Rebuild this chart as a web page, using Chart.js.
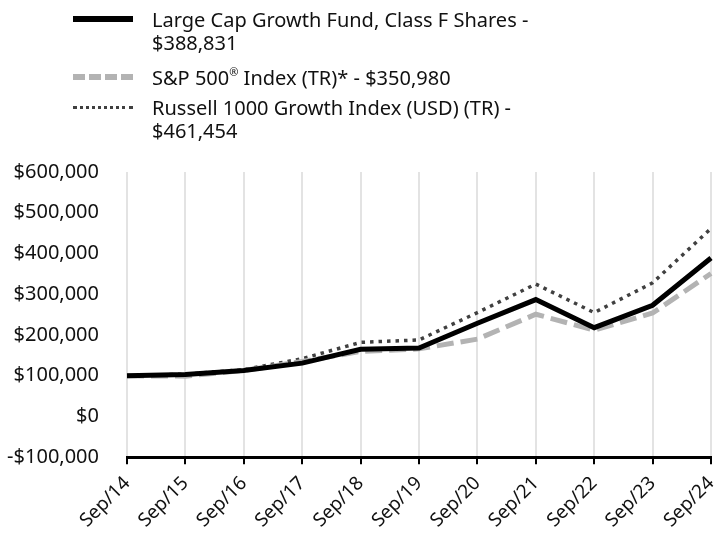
<!DOCTYPE html>
<html><head><meta charset="utf-8">
<script src="https://cdn.jsdelivr.net/npm/chart.js@4"></script>
<style>
html,body{margin:0;padding:0;background:#fff;}
#wrap{position:relative;width:714px;height:540px;}
#c{position:absolute;left:0;top:0;}
#legend{position:absolute;left:0;top:0;font-family:"Noto Sans",sans-serif;font-size:20px;color:#111;line-height:23px;}
.item{position:absolute;left:73px;width:640px;}
.sw{position:absolute;left:0;width:60px;height:0;}
.txt{position:absolute;left:79px;white-space:nowrap;}
.txt sup{font-size:11px;line-height:0;vertical-align:9px;}
</style></head>
<body><div id="wrap"><canvas id="c" width="714" height="540"></canvas><div id="legend"></div></div>
<script>
const categories = ["Sep/14","Sep/15","Sep/16","Sep/17","Sep/18","Sep/19","Sep/20","Sep/21","Sep/22","Sep/23","Sep/24"];
const fundValues = [100000,103000,113000,131000,165000,168000,229000,287000,218000,273000,388831];
const spValues = [100000,99000,113000,135000,160000,166000,190000,251000,212000,254000,350980];
const russellValues = [100000,104000,115000,142000,182000,188000,255000,325000,255000,328000,461454];
const seriesLabels = [["Large Cap Growth Fund, Class F Shares -","$388,831"],["S&P 500\u00AE Index (TR)* - $350,980"],["Russell 1000 Growth Index (USD) (TR) -","$461,454"]];
const yTicks = [-100000,0,100000,200000,300000,400000,500000,600000];

const legendStyles = [
  {top:8, sw:'border-top:6px solid #000;margin-top:8px;'},
  {top:66, sw:'border-top:6px dashed #b3b3b3;margin-top:8px;'},
  {top:96, sw:'border-top:3px dotted #404040;margin-top:10px;'}
];
const lg = document.getElementById('legend');
seriesLabels.forEach((lines,i)=>{
  const d=document.createElement('div');d.className='item';d.style.top=legendStyles[i].top+'px';
  const s=document.createElement('div');s.className='sw';s.style.cssText+=legendStyles[i].sw;
  d.appendChild(s);
  const t=document.createElement('div');t.className='txt';
  lines.forEach(l=>{
    const sp=document.createElement('div');
    const parts=l.split('\u00AE');
    parts.forEach((p,k)=>{
      sp.appendChild(document.createTextNode(p));
      if(k<parts.length-1){const su=document.createElement('sup');su.textContent='\u00AE';sp.appendChild(su);}
    });
    t.appendChild(sp);
  });
  d.appendChild(t);lg.appendChild(d);
});

const fmt = v => (v<0?'-':'') + '$' + Math.abs(v).toLocaleString('en-US');

new Chart(document.getElementById('c'), {
  type:'line',
  data:{labels:categories,datasets:[
    {label:seriesLabels[0].join(' '),data:fundValues,borderColor:'#000',borderWidth:5,pointRadius:0,tension:0,fill:false},
    {label:seriesLabels[1].join(' '),data:spValues,borderColor:'#b3b3b3',borderWidth:5,borderDash:[17,7],pointRadius:0,tension:0,fill:false},
    {label:seriesLabels[2].join(' '),data:russellValues,borderColor:'#404040',borderWidth:3.5,borderDash:[3.5,5],pointRadius:0,tension:0,fill:false}
  ]},
  options:{
    responsive:false,animation:false,
    layout:{padding:{top:172,right:3,left:3,bottom:0}},
    plugins:{legend:{display:false},tooltip:{enabled:false}},
    scales:{
      x:{offset:false,
        afterFit:s=>{s.paddingLeft=0;s.paddingRight=0;},
        grid:{color:'#e3e3e3',lineWidth:2,tickColor:'#000',tickLength:7,tickWidth:2},
        border:{color:'#000',width:3},
        ticks:{color:'#111',font:{family:'Noto Sans',size:19},maxRotation:45,minRotation:45,padding:8,autoSkip:false}
      },
      y:{min:-100000,max:600000,
        afterBuildTicks:ax=>{ax.ticks=yTicks.map(v=>({value:v}));},
        afterFit:s=>{s.width=124;},
        grid:{display:false},border:{display:false},
        ticks:{color:'#111',font:{family:'Noto Sans',size:20},padding:20,callback:v=>fmt(v)}
      }
    }
  }
});
</script></body></html>
